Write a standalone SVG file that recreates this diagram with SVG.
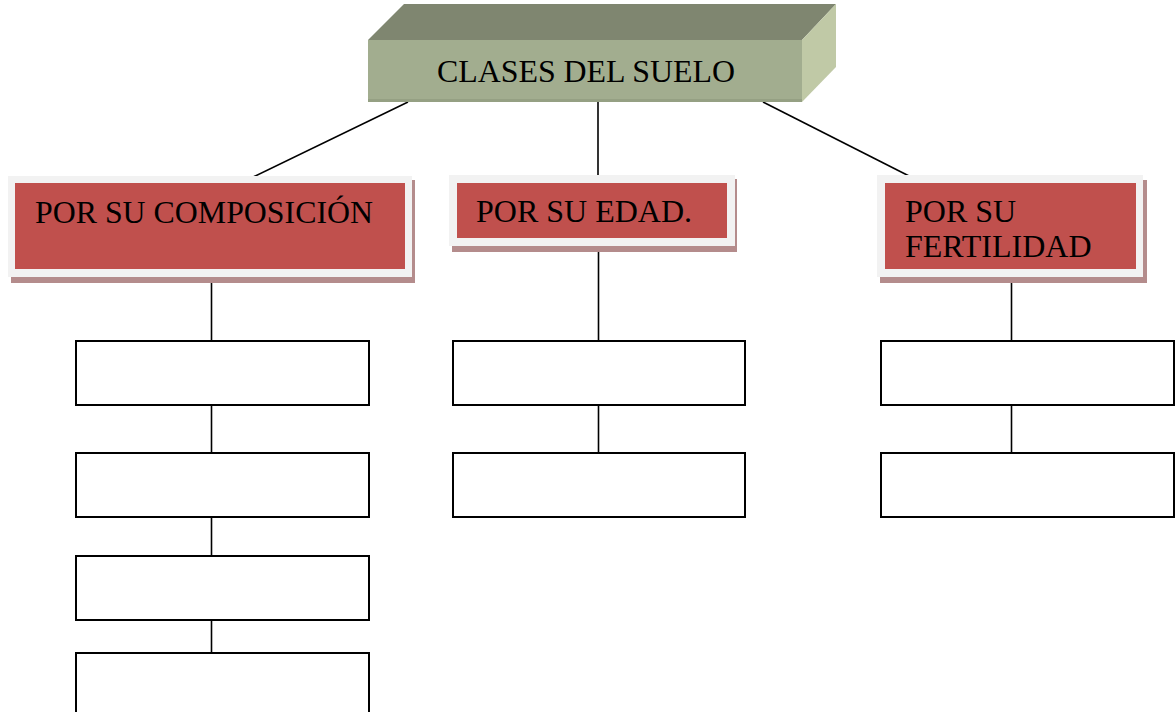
<svg xmlns="http://www.w3.org/2000/svg" width="1175" height="712" viewBox="0 0 1175 712">
<style>
.t{font-family:"Liberation Serif","Times New Roman",serif;font-size:32px;fill:#000}
.frame{fill:#f2f2f2}
.shadow{fill:#b48c8c}
.red{fill:#c0504d}
.box{fill:#fff;stroke:#000;stroke-width:2}
.ln{stroke:#000;stroke-width:1.6;fill:none}
</style>
<rect width="1175" height="712" fill="#fff"/>
<g id="connectors">
<line class="ln" x1="408" y1="102" x2="251" y2="178"/>
<line class="ln" x1="598" y1="102" x2="598" y2="178"/>
<line class="ln" x1="763" y1="102" x2="913" y2="178"/>
<line class="ln" x1="211.5" y1="277" x2="211.5" y2="341"/>
<line class="ln" x1="211.5" y1="405" x2="211.5" y2="453"/>
<line class="ln" x1="211.5" y1="517" x2="211.5" y2="556"/>
<line class="ln" x1="211.5" y1="620" x2="211.5" y2="653"/>
<line class="ln" x1="598.5" y1="246" x2="598.5" y2="341"/>
<line class="ln" x1="598.5" y1="405" x2="598.5" y2="453"/>
<line class="ln" x1="1011.5" y1="277" x2="1011.5" y2="341"/>
<line class="ln" x1="1011.5" y1="405" x2="1011.5" y2="453"/>
</g>
<g id="root">
<polygon points="368,40 404,4 836,4 802,40" fill="#7f8670"/>
<polygon points="802,40 836,4 836,67 802,102" fill="#c0c9a6"/>
<rect x="368" y="40" width="434" height="62" fill="#a2ad8f"/>
<rect x="368" y="99" width="434" height="3" fill="#95a083"/>
<text class="t" x="437" y="82" textLength="298" lengthAdjust="spacingAndGlyphs">CLASES DEL SUELO</text>
</g>
<g id="composicion">
<rect class="shadow" x="11" y="180" width="404" height="103"/>
<rect class="frame" x="8" y="176" width="404" height="101"/>
<rect class="red" x="15" y="183" width="390" height="86"/>
<text class="t" x="35" y="223" textLength="338" lengthAdjust="spacingAndGlyphs">POR SU COMPOSICIÓN</text>
</g>
<g id="edad">
<rect class="shadow" x="452" y="179" width="285" height="73"/>
<rect class="frame" x="449" y="175" width="286" height="71"/>
<rect class="red" x="457" y="183" width="270" height="55"/>
<text class="t" x="476" y="222">POR SU EDAD.</text>
</g>
<g id="fertilidad">
<rect class="shadow" x="880" y="180" width="267" height="103"/>
<rect class="frame" x="877" y="175" width="266" height="102"/>
<rect class="red" x="885" y="183" width="251" height="86"/>
<text class="t" x="905" y="222">POR SU</text>
<text class="t" x="905" y="257">FERTILIDAD</text>
</g>
<g id="comp1"><rect class="box" x="76" y="341" width="293" height="64"/></g>
<g id="comp2"><rect class="box" x="76" y="453" width="293" height="64"/></g>
<g id="comp3"><rect class="box" x="76" y="556" width="293" height="64"/></g>
<g id="comp4"><rect class="box" x="76" y="653" width="293" height="70"/></g>
<g id="edad1"><rect class="box" x="453" y="341" width="292" height="64"/></g>
<g id="edad2"><rect class="box" x="453" y="453" width="292" height="64"/></g>
<g id="fert1"><rect class="box" x="881" y="341" width="293" height="64"/></g>
<g id="fert2"><rect class="box" x="881" y="453" width="293" height="64"/></g>
</svg>
